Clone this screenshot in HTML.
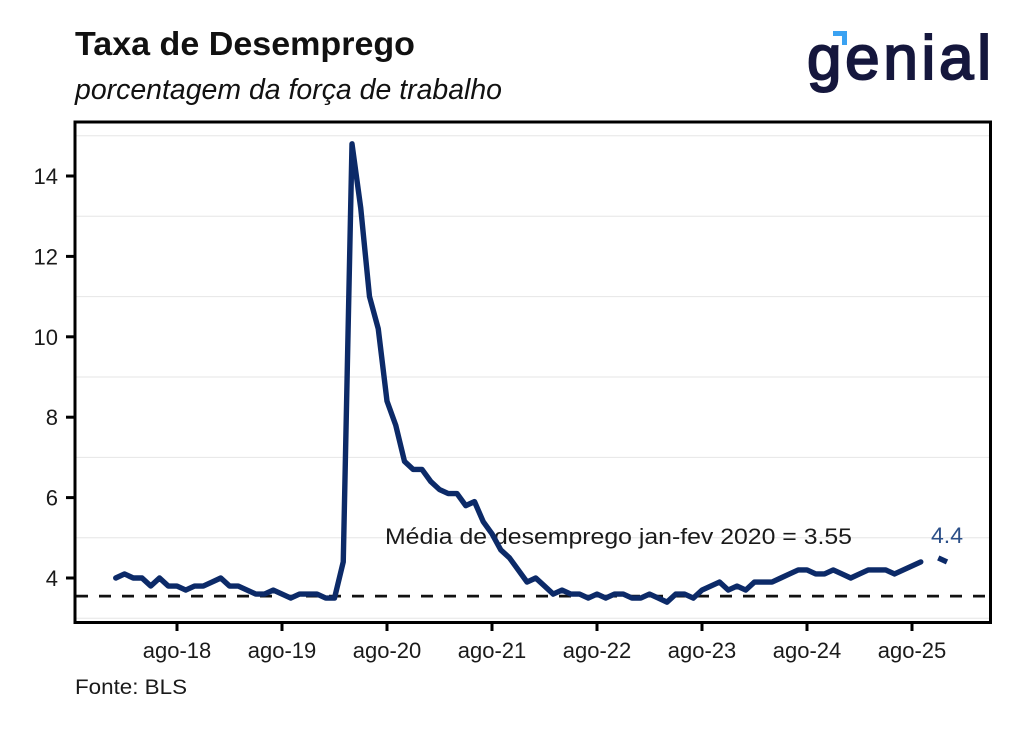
<!DOCTYPE html>
<html>
<head>
<meta charset="utf-8">
<style>
  html, body { margin: 0; padding: 0; background: #ffffff; }
  body { width: 1024px; height: 730px; overflow: hidden; }
  svg { display: block; }
  text { font-family: "Liberation Sans", Arial, sans-serif; }
</style>
</head>
<body>
<svg width="1024" height="730" viewBox="0 0 1024 730" xmlns="http://www.w3.org/2000/svg">
  <rect x="0" y="0" width="1024" height="730" fill="#ffffff"/>

  <!-- Title / subtitle -->
  <text x="75" y="55" font-size="33" font-weight="bold" fill="#111111" textLength="340" lengthAdjust="spacingAndGlyphs">Taxa de Desemprego</text>
  <text x="75" y="99" font-size="28.5" font-style="italic" fill="#111111" textLength="427" lengthAdjust="spacingAndGlyphs">porcentagem da força de trabalho</text>

  <!-- Logo -->
  <g>
    <text x="807" y="79" font-size="62" fill="#15173d" stroke="#15173d" stroke-width="2" textLength="184" lengthAdjust="spacing">genial</text>
    <rect x="833" y="31" width="14" height="5" fill="#3aa2f2"/>
    <rect x="842" y="31" width="5" height="14" fill="#3aa2f2"/>
  </g>

  <!-- Grid lines (minor, odd values) -->
  <g stroke="#e6e6e6" stroke-width="1">
    <line x1="76" y1="618.2" x2="989" y2="618.2"/>
    <line x1="76" y1="537.8" x2="989" y2="537.8"/>
    <line x1="76" y1="457.4" x2="989" y2="457.4"/>
    <line x1="76" y1="377" x2="989" y2="377"/>
    <line x1="76" y1="296.6" x2="989" y2="296.6"/>
    <line x1="76" y1="216.2" x2="989" y2="216.2"/>
    <line x1="76" y1="135.8" x2="989" y2="135.8"/>
  </g>

  <!-- Reference dashed line at 3.55 -->
  <line x1="76" y1="596.1" x2="989" y2="596.1" stroke="#111111" stroke-width="2.8" stroke-dasharray="12 11"/>

  <!-- Annotation -->
  <text x="385" y="544" font-size="22" fill="#1a1a1a" textLength="467" lengthAdjust="spacingAndGlyphs">Média de desemprego jan-fev 2020 =  3.55</text>
  <text x="931" y="543" font-size="22" fill="#2b4f88" textLength="32" lengthAdjust="spacingAndGlyphs">4.4</text>

  <!-- Series -->
  <g transform="matrix(8.75 0 0 -40.2 115.75 738.8)">
    <polyline fill="none" stroke="#0c2a68" stroke-width="5.4" stroke-linejoin="round" stroke-linecap="round" vector-effect="non-scaling-stroke"
      points="0,4.0 1,4.1 2,4.0 3,4.0 4,3.8 5,4.0 6,3.8 7,3.8 8,3.7 9,3.8 10,3.8 11,3.9
              12,4.0 13,3.8 14,3.8 15,3.7 16,3.6 17,3.6 18,3.7 19,3.6 20,3.5 21,3.6 22,3.6 23,3.6
              24,3.5 25,3.5 26,4.4 27,14.8 28,13.2 29,11.0 30,10.2 31,8.4 32,7.8 33,6.9 34,6.7 35,6.7
              36,6.4 37,6.2 38,6.1 39,6.1 40,5.8 41,5.9 42,5.4 43,5.1 44,4.7 45,4.5 46,4.2 47,3.9
              48,4.0 49,3.8 50,3.6 51,3.7 52,3.6 53,3.6 54,3.5 55,3.6 56,3.5 57,3.6 58,3.6 59,3.5
              60,3.5 61,3.6 62,3.5 63,3.4 64,3.6 65,3.6 66,3.5 67,3.7 68,3.8 69,3.9 70,3.7 71,3.8
              72,3.7 73,3.9 74,3.9 75,3.9 76,4.0 77,4.1 78,4.2 79,4.2 80,4.1 81,4.1 82,4.2 83,4.1
              84,4.0 85,4.1 86,4.2 87,4.2 88,4.2 89,4.1 90,4.2 91,4.3 92,4.4"/>
    <polyline fill="none" stroke="#0c2a68" stroke-width="5.4" stroke-linejoin="round" stroke-linecap="butt" vector-effect="non-scaling-stroke"
      points="94,4.5 95,4.4"/>
  </g>

  <!-- Panel border -->
  <rect x="75" y="122" width="915.5" height="500.5" fill="none" stroke="#000000" stroke-width="3"/>

  <!-- Y ticks -->
  <g stroke="#000000" stroke-width="3">
    <line x1="66" y1="578" x2="75" y2="578"/>
    <line x1="66" y1="497.6" x2="75" y2="497.6"/>
    <line x1="66" y1="417.2" x2="75" y2="417.2"/>
    <line x1="66" y1="336.8" x2="75" y2="336.8"/>
    <line x1="66" y1="256.4" x2="75" y2="256.4"/>
    <line x1="66" y1="176" x2="75" y2="176"/>
  </g>
  <g font-size="22" fill="#1a1a1a" text-anchor="end">
    <text x="58" y="586">4</text>
    <text x="58" y="505.6">6</text>
    <text x="58" y="425.2">8</text>
    <text x="58" y="344.8">10</text>
    <text x="58" y="264.4">12</text>
    <text x="58" y="184">14</text>
  </g>

  <!-- X ticks -->
  <g stroke="#000000" stroke-width="3">
    <line x1="177" y1="622" x2="177" y2="631"/>
    <line x1="282" y1="622" x2="282" y2="631"/>
    <line x1="387" y1="622" x2="387" y2="631"/>
    <line x1="492" y1="622" x2="492" y2="631"/>
    <line x1="597" y1="622" x2="597" y2="631"/>
    <line x1="702" y1="622" x2="702" y2="631"/>
    <line x1="807" y1="622" x2="807" y2="631"/>
    <line x1="912" y1="622" x2="912" y2="631"/>
  </g>
  <g font-size="22" fill="#1a1a1a" text-anchor="middle">
    <text x="177" y="658">ago-18</text>
    <text x="282" y="658">ago-19</text>
    <text x="387" y="658">ago-20</text>
    <text x="492" y="658">ago-21</text>
    <text x="597" y="658">ago-22</text>
    <text x="702" y="658">ago-23</text>
    <text x="807" y="658">ago-24</text>
    <text x="912" y="658">ago-25</text>
  </g>

  <!-- Source -->
  <text x="75" y="694" font-size="21" fill="#1a1a1a" textLength="112" lengthAdjust="spacingAndGlyphs">Fonte: BLS</text>
</svg>
</body>
</html>
